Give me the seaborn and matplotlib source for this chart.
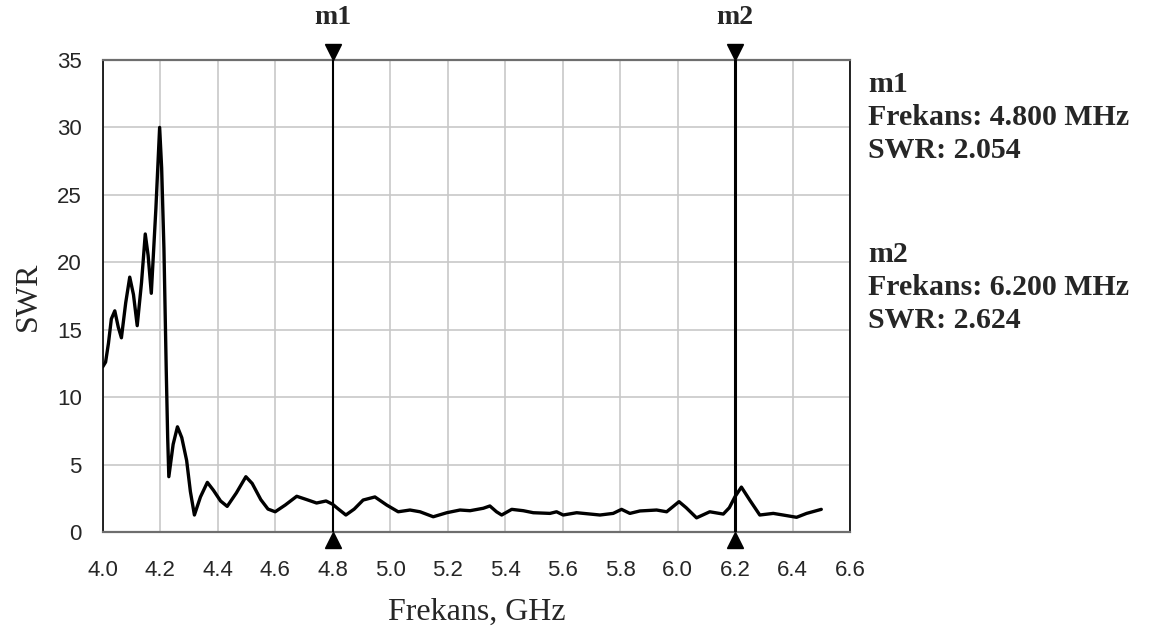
import matplotlib
matplotlib.use("Agg")
import matplotlib.pyplot as plt
import matplotlib.transforms as mtransforms
from matplotlib.ticker import MultipleLocator
import seaborn as sns

# SWR curve
freq = [4.000, 4.010, 4.020, 4.030, 4.042, 4.054, 4.065, 4.080, 4.094, 4.107,
        4.120, 4.135, 4.148, 4.158, 4.169, 4.185, 4.198, 4.205, 4.213, 4.221,
        4.226, 4.230, 4.245, 4.260, 4.275, 4.292, 4.305, 4.319, 4.340, 4.364,
        4.385, 4.410, 4.433, 4.465, 4.498, 4.520, 4.550, 4.575, 4.600, 4.635,
        4.675, 4.710, 4.744, 4.777, 4.800, 4.820, 4.846, 4.875, 4.906, 4.947,
        4.988, 5.028, 5.069, 5.104, 5.150, 5.197, 5.243, 5.278, 5.324, 5.347,
        5.370, 5.388, 5.423, 5.463, 5.498, 5.556, 5.579, 5.602, 5.649, 5.730,
        5.776, 5.805, 5.834, 5.869, 5.927, 5.962, 5.985, 6.005, 6.030, 6.066,
        6.112, 6.159, 6.180, 6.200, 6.222, 6.251, 6.286, 6.333, 6.367, 6.414,
        6.449, 6.500]
swr = [12.25, 12.6, 14.0, 15.8, 16.4, 15.2, 14.4, 17.0, 18.9, 17.6,
       15.3, 18.5, 22.1, 20.5, 17.7, 24.0, 30.0, 27.0, 21.0, 12.0,
       7.0, 4.1, 6.5, 7.8, 7.0, 5.3, 3.0, 1.26, 2.6, 3.68,
       3.1, 2.3, 1.9, 2.9, 4.1, 3.6, 2.4, 1.7, 1.5, 2.0,
       2.65, 2.4, 2.15, 2.3, 2.054, 1.7, 1.26, 1.7, 2.37, 2.6,
       2.0, 1.5, 1.63, 1.5, 1.13, 1.43, 1.63, 1.58, 1.76, 1.93,
       1.5, 1.26, 1.68, 1.58, 1.43, 1.38, 1.5, 1.26, 1.43, 1.26,
       1.38, 1.68, 1.38, 1.56, 1.63, 1.5, 1.9, 2.25, 1.8, 1.05,
       1.5, 1.33, 1.8, 2.624, 3.33, 2.37, 1.26, 1.38, 1.26, 1.09,
       1.38, 1.68]

# markers
marker_names = ["m1", "m2"]
marker_freq = [4.8, 6.2]
marker_swr = [2.054, 2.624]
marker_width = [1.5, 2.2]

sns.set_style("white")
serif = ["Liberation Serif", "DejaVu Serif"]
sans = ["Liberation Sans", "DejaVu Sans"]

fig = plt.figure(figsize=(11.49, 6.35), dpi=100)
ax = fig.add_axes([0.0894, 0.1622, 0.6504, 0.7433])

sns.lineplot(x=freq, y=swr, sort=False, color="black", linewidth=2.4, ax=ax)

ax.set_xlim(4.0, 6.6)
ax.set_ylim(0, 35)
ax.xaxis.set_major_locator(MultipleLocator(0.2))
ax.xaxis.set_minor_locator(MultipleLocator(0.1))
ax.yaxis.set_major_locator(MultipleLocator(5))
ax.xaxis.set_major_formatter(plt.FuncFormatter(lambda v, p: f"{v:.1f}"))

ax.grid(True, which="major", color="#c8c8c8", linewidth=1.2)
ax.set_axisbelow(True)
for side in ["left", "right"]:
    ax.spines[side].set_color("black")
    ax.spines[side].set_linewidth(1.2)
for side in ["top", "bottom"]:
    ax.spines[side].set_color("#6e6e6e")
    ax.spines[side].set_linewidth(1.6)

ax.tick_params(axis="x", which="major", direction="out", length=14, width=1.2,
               color="#333333", pad=6, labelsize=16)
ax.tick_params(axis="x", which="minor", direction="out", length=8, width=1.2,
               color="#333333")
ax.tick_params(axis="y", which="major", direction="out", length=14, width=1.2,
               color="#6e6e6e", pad=1, labelsize=16)
for lab in ax.get_xticklabels() + ax.get_yticklabels():
    lab.set_family(sans)

ax.set_xlabel("Frekans, GHz", fontsize=23, family=serif, labelpad=12)
ax.set_ylabel("SWR", fontsize=23, family=serif, labelpad=10)

# marker lines with triangles at both ends
up = mtransforms.offset_copy(ax.transData, fig=fig, y=8, units="dots")
down = mtransforms.offset_copy(ax.transData, fig=fig, y=-8, units="dots")
for name, f, w in zip(marker_names, marker_freq, marker_width):
    ax.axvline(f, color="black", linewidth=w, zorder=3)
    ax.plot([f], [35], marker="v", markersize=12, color="black",
            transform=up, clip_on=False, zorder=4)
    ax.plot([f], [0], marker="^", markersize=12, color="black",
            transform=down, clip_on=False, zorder=4)
    ax.text(f, 1.0 + 30 / 472, name, transform=ax.get_xaxis_transform(),
            ha="center", va="bottom", fontsize=20, fontweight="bold",
            family=serif)

# marker readout on the right
info_lines = []
for name, f, s in zip(marker_names, marker_freq, marker_swr):
    info_lines.append([name, f"Frekans: {f:.3f} MHz", f"SWR: {s:.3f}"])
block_tops = [85, 255]
for lines, top in zip(info_lines, block_tops):
    for i, line in enumerate(lines):
        fig.text(868 / 1149, 1 - (top + i * 32.5) / 635, line, ha="left",
                 va="center", fontsize=21.5, fontweight="bold", family=serif)

fig.savefig("out.png", dpi=100)
